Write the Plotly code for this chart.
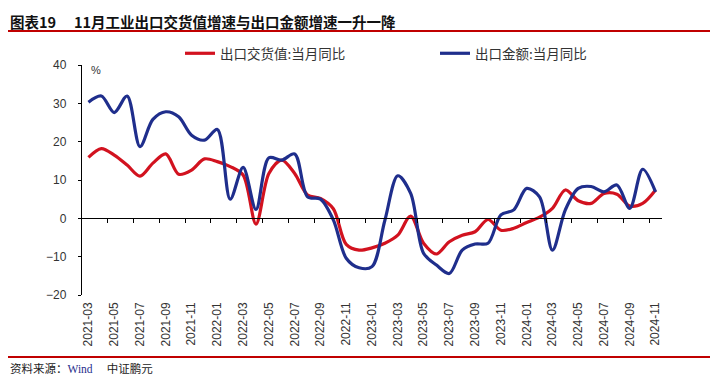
import plotly.graph_objects as go

# ---------------- data ----------------
months = [
    "2021-03", "2021-04", "2021-05", "2021-06", "2021-07", "2021-08", "2021-09", "2021-10", "2021-11", "2021-12",
    "2022-01", "2022-02", "2022-03", "2022-04", "2022-05", "2022-06", "2022-07", "2022-08", "2022-09", "2022-10",
    "2022-11", "2022-12", "2023-01", "2023-02", "2023-03", "2023-04", "2023-05", "2023-06", "2023-07", "2023-08",
    "2023-09", "2023-10", "2023-11", "2023-12", "2024-01", "2024-02", "2024-03", "2024-04", "2024-05", "2024-06",
    "2024-07", "2024-08", "2024-09", "2024-10", "2024-11",
]
delivery_yoy = [15.9, 18.2, 16.5, 13.9, 11.0, 14.4, 16.8, 11.5, 12.6, 15.5,
                14.8, 13.5, 11.3, -1.5, 11.7, 15.2, 11.7, 6.1, 5.2, 2.5,
                -6.8, -8.3, -7.7, -6.5, -4.4, 0.6, -6.5, -9.3, -6.1, -4.4,
                -3.5, -0.3, -3.1, -2.6, -1.1, 0.3, 2.6, 7.4, 4.6, 3.9,
                6.5, 6.3, 3.2, 3.9, 7.4]
export_yoy = [30.3, 31.9, 27.6, 31.9, 18.7, 25.8, 27.8, 26.5, 21.7, 20.4,
              23.2, 5.0, 13.3, 2.3, 15.8, 15.2, 16.8, 5.6, 5.0, -0.4,
              -10.4, -12.9, -12.6, -0.5, 11.1, 6.5, -9.1, -12.2, -14.4, -8.3,
              -6.7, -6.5, 0.9, 2.2, 7.8, 5.6, -8.3, 2.2, 7.8, 8.3,
              6.9, 8.7, 2.6, 12.8, 6.9]
series_names = ["出口交货值:当月同比", "出口金额:当月同比"]
y_ticks = [-20, -10, 0, 10, 20, 30, 40]
title_text = "图表19　 11月工业出口交货值增速与出口金额增速一升一降"
source_prefix = "资料来源："
source_wind = "Wind"
source_org = "中证鹏元"

# ---------------- layout constants (screen pixels) ----------------
OFF = 8                      # page body margin of the browser
SW, SH = 718, 382            # window size
W, H = SW - OFF, SH - OFF    # figure size
PL, PR, PT, PB = 82, 662, 65, 295   # plot area in screen pixels
L, T = PL - OFF, PT - OFF
R, B = SW - PR, SH - PB
PW, PH = PR - PL, PB - PT
RED = "#D2121F"
BLUE = "#1F2E8C"
RULE = "#C00000"
TXT = "#333333"


def px_x(x):
    return (x - PL) / PW


def px_y(y):
    return (PB - y) / PH


idx = list(range(len(months)))
label_idx = idx[::2]
label_txt = months[::2]
bound_idx = [i + 1.5 for i in idx[::2][:-1]]

fig = go.Figure()
fig.add_trace(go.Scatter(x=idx, y=delivery_yoy, name=series_names[0], mode="lines",
                         line=dict(color=RED, width=3.2, shape="spline", smoothing=0.9)))
fig.add_trace(go.Scatter(x=idx, y=export_yoy, name=series_names[1], mode="lines",
                         line=dict(color=BLUE, width=3.2, shape="spline", smoothing=0.9)))
# dummy trace so the zero-position axis renders
fig.add_trace(go.Scatter(x=idx, y=[None] * len(idx), xaxis="x2", showlegend=False,
                         hoverinfo="skip", mode="lines"))

ymin, ymax = y_ticks[0], y_ticks[-1]
zero_pos = (0 - ymin) / (ymax - ymin)

fig.update_layout(
    width=W, height=H,
    margin=dict(l=L, r=R, t=T, b=B, pad=0),
    paper_bgcolor="white", plot_bgcolor="white",
    font=dict(family="Liberation Sans, Arial, sans-serif", size=12, color=TXT),
    showlegend=True,
    legend=dict(orientation="h", x=px_x(180), y=px_y(38), xanchor="left", yanchor="top",
                font=dict(family="Noto Sans CJK SC, sans-serif", size=13.5, color=TXT),
                entrywidth=210, entrywidthmode="pixels", itemwidth=30,
                bgcolor="rgba(0,0,0,0)", tracegroupgap=0),
    xaxis=dict(range=[-0.5, len(idx) - 0.5], tickmode="array", tickvals=label_idx, ticktext=label_txt,
               tickangle=-90, ticks="", showline=False, showgrid=False, zeroline=False,
               tickfont=dict(family="Liberation Sans, Arial, sans-serif", size=12, color=TXT),
               ticklabelstandoff=4),
    xaxis2=dict(range=[-0.5, len(idx) - 0.5], overlaying="x", anchor="free", position=zero_pos,
                side="bottom", tickmode="array", tickvals=bound_idx, showticklabels=False,
                ticks="outside", ticklen=4, tickwidth=1, tickcolor="black",
                showline=True, linecolor="black", linewidth=1.3, showgrid=False, zeroline=False),
    yaxis=dict(range=[ymin, ymax], tickmode="array", tickvals=y_ticks, showgrid=False, zeroline=False,
               showline=True, linecolor="black", linewidth=1.3, ticks="outside", ticklen=3,
               tickcolor="black", ticklabelstandoff=9,
               tickfont=dict(family="Liberation Sans, Arial, sans-serif", size=12, color=TXT)),
)

fig.add_annotation(text="%", xref="paper", yref="paper", x=px_x(89), y=px_y(70),
                   xanchor="left", yanchor="middle", showarrow=False,
                   font=dict(family="Liberation Sans, Arial, sans-serif", size=11, color=TXT))
fig.add_annotation(text="<b>" + title_text + "</b>", xref="paper", yref="paper", x=px_x(OFF), y=px_y(OFF + 1),
                   xanchor="left", yanchor="top", showarrow=False,
                   font=dict(family="Noto Sans CJK SC, sans-serif", size=14.5, color="#111111"))
source_html = (source_prefix
               + "<span style='font-family:Liberation Serif, Times New Roman, serif;color:#1F2E8C'>"
               + source_wind + "</span>　 " + source_org)
fig.add_annotation(text=source_html, xref="paper", yref="paper", x=px_x(OFF), y=px_y(368),
                   xanchor="left", yanchor="middle", showarrow=False,
                   font=dict(family="Noto Sans CJK SC, sans-serif", size=11.5, color="#222222"))
fig.add_shape(type="line", xref="paper", yref="paper", x0=px_x(OFF), x1=px_x(SW), y0=px_y(31), y1=px_y(31),
              line=dict(color=RULE, width=2))
fig.add_shape(type="line", xref="paper", yref="paper", x0=px_x(OFF), x1=px_x(SW), y0=px_y(357), y1=px_y(357),
              line=dict(color=RULE, width=2))

fig.write_html("out.html")
